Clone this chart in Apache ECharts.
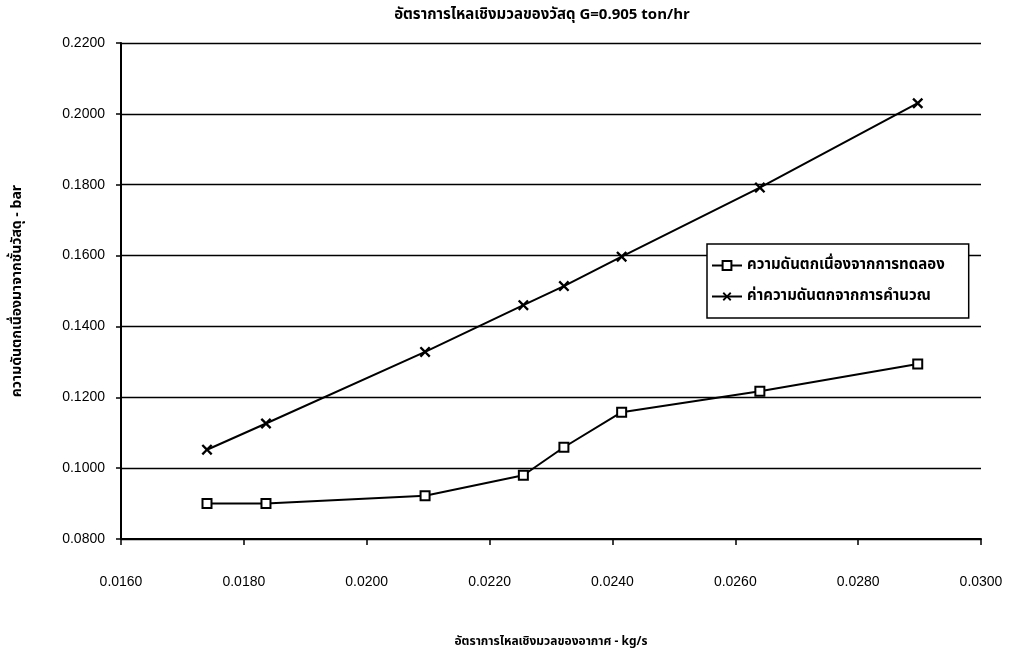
<!DOCTYPE html>
<html>
<head>
<meta charset="utf-8">
<script src="https://cdn.jsdelivr.net/npm/echarts@6/dist/echarts.min.js"></script>
<style>html,body{margin:0;padding:0;background:#fff}#c{width:1011px;height:657px}</style>
</head>
<body>
<div id="c"></div>
<script>
const airFlow = [0.01740, 0.01836, 0.02095, 0.02255, 0.02321, 0.02415, 0.02640, 0.02897];
const dpExperiment = [0.0900, 0.0900, 0.0922, 0.0980, 0.1059, 0.1158, 0.1217, 0.1294];
const dpCalculated = [0.1052, 0.1126, 0.1328, 0.1460, 0.1514, 0.1597, 0.1792, 0.2030];
const seriesNames = ['ความดันตกเนื่องจากการทดลอง', 'ค่าความดันตกจากการคำนวณ'];
const titleText = 'อัตราการไหลเชิงมวลของวัสดุ G=0.905 ton/hr';
const xName = 'อัตราการไหลเชิงมวลของอากาศ - kg/s';
const yName = 'ความดันตกเนื่องมาจากชั้นวัสดุ - bar';

const crossPath = 'path://M0,1.5 L1.5,0 L5,3.5 L8.5,0 L10,1.5 L6.5,5 L10,8.5 L8.5,10 L5,6.5 L1.5,10 L0,8.5 L3.5,5 Z';
const fontFam = 'Liberation Sans, Arial, sans-serif';
const thaiFam = 'Noto Sans Thai, Loma, Garuda, Tlwg Typo, Liberation Serif, serif';

const chart = echarts.init(document.getElementById('c'), null, {renderer: 'canvas'});
chart.setOption({
  backgroundColor: '#ffffff',
  animation: false,
  title: {
    text: titleText,
    left: 537, top: 3, textAlign: 'center',
    textStyle: {fontSize: 15, fontWeight: 'bold', color: '#000', fontFamily: thaiFam}
  },
  grid: {left: 121, right: 30, top: 43, bottom: 118},
  legend: {
    orient: 'vertical',
    left: 707, top: 244,
    backgroundColor: '#fff',
    borderColor: '#000', borderWidth: 1.5,
    padding: [14, 24, 14, 4],
    itemGap: 16,
    itemWidth: 30, itemHeight: 11,
    textStyle: {fontSize: 15, fontWeight: 'bold', color: '#000', fontFamily: thaiFam},
    data: seriesNames
  },
  xAxis: {
    type: 'value',
    min: 0.016, max: 0.030, interval: 0.002,
    name: xName, nameLocation: 'middle', nameGap: 98,
    nameTextStyle: {fontSize: 12, fontWeight: 'bold', color: '#000', fontFamily: thaiFam},
    axisLine: {show: true, lineStyle: {color: '#000', width: 2}},
    axisTick: {show: true, inside: false, length: 6, lineStyle: {color: '#000', width: 1.5}},
    axisLabel: {margin: 36, fontSize: 14, color: '#000', fontFamily: fontFam,
      formatter: v => v.toFixed(4)},
    splitLine: {show: false}
  },
  yAxis: {
    type: 'value',
    min: 0.08, max: 0.22, interval: 0.02,
    name: yName, nameLocation: 'middle', nameGap: 96, nameRotate: 90,
    nameTextStyle: {fontSize: 14, fontWeight: 'bold', color: '#000', fontFamily: thaiFam},
    axisLine: {show: true, onZero: false, lineStyle: {color: '#000', width: 2}},
    axisTick: {show: true, inside: false, length: 5, lineStyle: {color: '#000', width: 1.5}},
    axisLabel: {margin: 16, fontSize: 14, color: '#000', fontFamily: fontFam,
      formatter: v => v.toFixed(4)},
    splitLine: {show: true, lineStyle: {color: '#000', width: 1.3}}
  },
  series: [
    {
      name: seriesNames[0], type: 'line',
      data: airFlow.map((x, i) => [x, dpExperiment[i]]),
      symbol: 'rect', symbolSize: 9,
      lineStyle: {color: '#000', width: 2},
      itemStyle: {color: '#fff', borderColor: '#000', borderWidth: 2},
      z: 3
    },
    {
      name: seriesNames[1], type: 'line',
      data: airFlow.map((x, i) => [x, dpCalculated[i]]),
      symbol: crossPath, symbolSize: 11,
      lineStyle: {color: '#000', width: 2},
      itemStyle: {color: '#000', borderWidth: 0},
      z: 3
    }
  ]
});
</script>
</body>
</html>
